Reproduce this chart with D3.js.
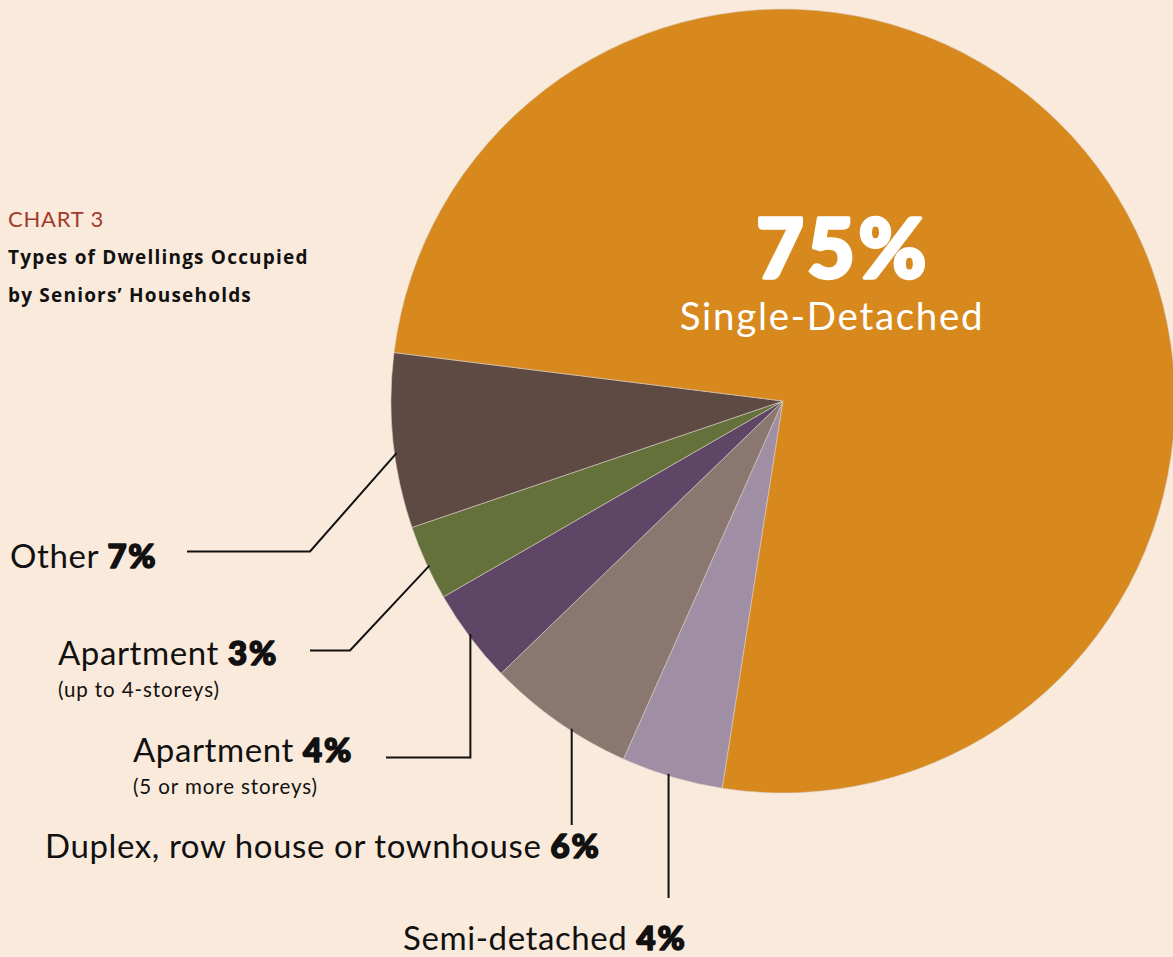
<!DOCTYPE html>
<html>
<head>
<meta charset="utf-8">
<script src="https://cdn.jsdelivr.net/npm/d3@7"></script>
<style>
  html, body { margin: 0; padding: 0; background: #FAEADB; }
  svg { display: block; }
  text { font-family: "Lato", "Open Sans", sans-serif; }
  text.title { font-family: "Open Sans", sans-serif; }
</style>
</head>
<body>
<svg id="chart" width="1173" height="957"></svg>
<script>
// ---- data (clockwise order starting at the lavender/orange boundary) ----
const categories = ["Semi-detached", "Duplex, row house or townhouse", "Apartment", "Apartment", "Other", "Single-Detached"];
const subLabels  = ["", "", "(5 or more storeys)", "(up to 4-storeys)", "", ""];
const shares     = [4.2, 6.1, 3.9, 3.1, 7.2, 75.5];   // slice sizes
const pctLabels  = ["4%", "6%", "4%", "3%", "7%", "75%"];
const colors     = ["#A08EA4", "#8A7770", "#5F4667", "#65713A", "#5E4943", "#D7891E"];

const titleSmall = "CHART 3";
const titleLines = ["Types of Dwellings Occupied", "by Seniors\u2019 Households"];

// ---- layout ----
const W = 1173, H = 957;
const cx = 783, cy = 401, R = 392;
const startDeg = 188.9;

const svg = d3.select("#chart");
svg.append("rect").attr("width", W).attr("height", H).attr("fill", "#FAEADB");

const pie = d3.pie().sort(null).value(d => d)
  .startAngle(startDeg * Math.PI / 180)
  .endAngle((startDeg + 360) * Math.PI / 180);
const arcs = pie(shares);
const arc = d3.arc().innerRadius(0).outerRadius(R);

const g = svg.append("g").attr("transform", `translate(${cx},${cy})`);
g.selectAll("path").data(arcs).join("path")
  .attr("d", arc)
  .attr("fill", (d, i) => colors[i])
  .attr("stroke", "#D9CFC8")
  .attr("stroke-width", 0.6)
  .attr("stroke-linejoin", "round");

// point on rim at a fraction of the slice's angular span
function rimPoint(d, frac, r) {
  const a = d.startAngle + (d.endAngle - d.startAngle) * frac;
  return [cx + Math.sin(a) * r, cy - Math.cos(a) * r];
}

// leader layouts
const leaderCfg = [
  { type: "v", frac: 0.54, yEnd: 898 },
  { type: "v", frac: 0.40, yEnd: 825 },
  { type: "v", frac: 0.52, yEnd: 757.5, xEnd: 386 },
  { type: "d", frac: 0.45, elbow: [350, 650.5], xEnd: 310 },
  { type: "d", frac: 0.43, elbow: [310, 551.5], xEnd: 187 },
  null
];
const labelPos = [
  { x: 403, y: 950 },
  { x: 45, y: 858 },
  { x: 133, y: 762 },
  { x: 58, y: 665 },
  { x: 10, y: 568 },
  null
];

const lineGen = d3.line();
arcs.forEach((d, i) => {
  const cfg = leaderCfg[i];
  if (!cfg) return;
  const p0 = rimPoint(d, cfg.frac, R - 2);
  let pts;
  if (cfg.type === "v") {
    pts = [p0, [p0[0], cfg.yEnd]];
    if (cfg.xEnd !== undefined) pts.push([cfg.xEnd, cfg.yEnd]);
  } else {
    pts = [p0, cfg.elbow, [cfg.xEnd, cfg.elbow[1]]];
  }
  svg.append("path").attr("d", lineGen(pts))
    .attr("fill", "none").attr("stroke", "#111").attr("stroke-width", 2);

  const lp = labelPos[i];
  const t = svg.append("text").attr("x", lp.x).attr("y", lp.y)
    .attr("font-size", 33).attr("letter-spacing", 0.6).attr("fill", "#111");
  t.append("tspan").text(categories[i] + " ");
  t.append("tspan").attr("font-weight", 900)
    .attr("stroke", "#111").attr("stroke-width", 1.6).attr("stroke-linejoin", "round")
    .attr("letter-spacing", 1.8)
    .text(pctLabels[i]);
  if (subLabels[i]) {
    svg.append("text").attr("x", lp.x).attr("y", lp.y + 32)
      .attr("font-size", 20.5).attr("letter-spacing", 0.9).attr("fill", "#111").text(subLabels[i]);
  }
});

// big label on the main slice
svg.append("text").attr("x", 843).attr("y", 278)
  .attr("text-anchor", "middle").attr("font-size", 82).attr("font-weight", 900)
  .attr("letter-spacing", 3.5)
  .attr("fill", "#fff").attr("stroke", "#fff").attr("stroke-width", 3.5).attr("stroke-linejoin", "round")
  .text(pctLabels[5]);
svg.append("text").attr("x", 832).attr("y", 330)
  .attr("text-anchor", "middle").attr("font-size", 38.5).attr("letter-spacing", 1.7)
  .attr("fill", "#fff").text(categories[5]);

// title
svg.append("text").attr("x", 8).attr("y", 227)
  .attr("font-size", 22).attr("letter-spacing", 0.8).attr("font-weight", 400)
  .attr("fill", "#A33B2B").text(titleSmall);
titleLines.forEach((s, i) => {
  svg.append("text").attr("class", "title").attr("x", 8).attr("y", 264 + i * 37.5)
    .attr("font-size", 19).attr("font-weight", 700).attr("letter-spacing", 1.2)
    .attr("fill", "#111").text(s);
});
</script>
</body>
</html>
